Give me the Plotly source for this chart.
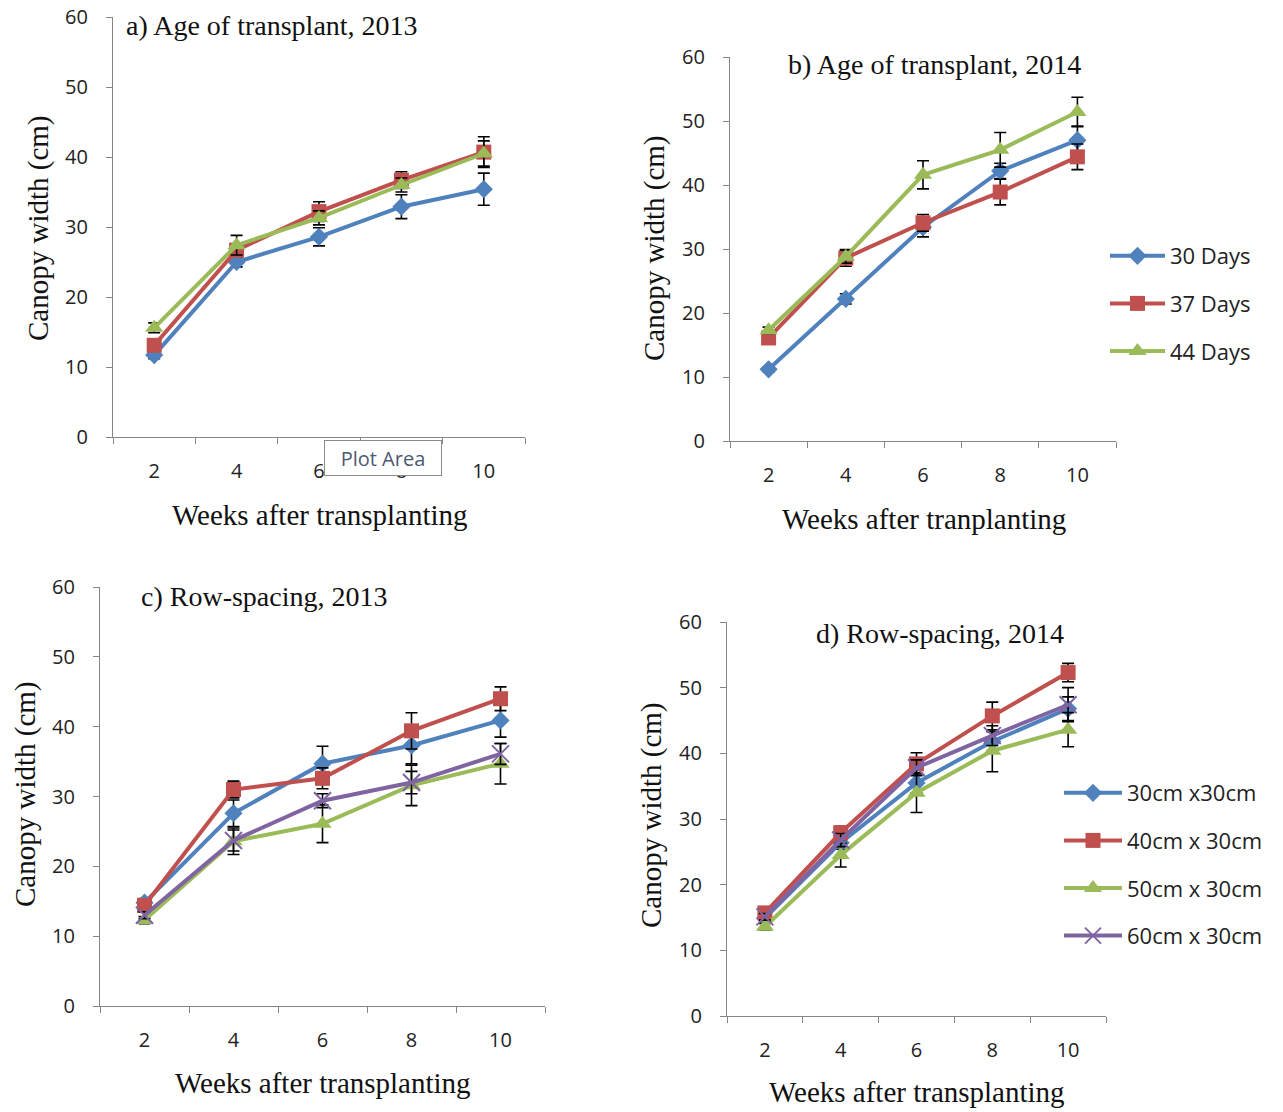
import plotly.graph_objects as go

W, H = 1283, 1112

weeks = ["2", "4", "6", "8", "10"]
y_ticks = [0, 10, 20, 30, 40, 50, 60]

# a) Age of transplant, 2013
a_30 = [11.7, 25.0, 28.6, 32.9, 35.4]
a_37 = [13.1, 26.7, 32.2, 36.7, 40.7]
a_44 = [15.6, 27.4, 31.3, 36.0, 40.5]
a_30_err = [0.5, 0.7, 1.3, 1.7, 2.3]
a_37_err = [0.6, 0.8, 1.4, 1.2, 2.2]
a_44_err = [0.7, 1.4, 1.0, 1.0, 1.8]

# b) Age of transplant, 2014
b_30 = [11.2, 22.2, 33.4, 42.2, 47.0]
b_37 = [16.1, 28.6, 34.1, 38.9, 44.4]
b_44 = [17.3, 28.8, 41.6, 45.5, 51.4]
b_30_err = [0.4, 0.8, 1.5, 1.2, 2.2]
b_37_err = [0.5, 1.3, 1.3, 2.0, 2.0]
b_44_err = [0.5, 1.0, 2.2, 2.7, 2.3]

# c) Row-spacing, 2013
c_30 = [14.8, 27.6, 34.7, 37.3, 40.9]
c_40 = [14.4, 31.0, 32.6, 39.4, 44.0]
c_50 = [12.3, 23.6, 26.1, 31.6, 34.7]
c_60 = [13.0, 23.7, 29.4, 32.0, 36.1]
c_30_err = [0.6, 1.9, 2.5, 2.6, 2.4]
c_40_err = [0.5, 1.2, 1.5, 2.6, 1.7]
c_50_err = [0.5, 1.9, 2.7, 2.9, 2.9]
c_60_err = [0.5, 1.5, 1.0, 1.6, 1.5]

# d) Row-spacing, 2014
d_30 = [14.9, 26.4, 35.5, 41.8, 46.8]
d_40 = [15.7, 27.9, 38.4, 45.7, 52.3]
d_50 = [13.6, 24.5, 34.0, 40.4, 43.6]
d_60 = [15.1, 26.8, 37.8, 42.7, 47.4]
d_30_err = [0.5, 1.0, 1.5, 1.5, 1.8]
d_40_err = [0.5, 1.0, 1.7, 2.1, 1.4]
d_50_err = [0.5, 1.8, 3.0, 3.2, 2.6]
d_60_err = [0.5, 1.0, 1.2, 1.5, 2.6]

age_names = ["30 Days", "37 Days", "44 Days"]
row_names = ["30cm x30cm", "40cm x 30cm", "50cm x 30cm", "60cm x 30cm"]

BLUE, RED, GREEN, PURPLE = "#4F81BD", "#C0504D", "#9BBB59", "#8064A2"
colors = [BLUE, RED, GREEN, PURPLE]
symbols = ["diamond", "square", "triangle-up", "x-thin-open"]
msizes = [14, 15, 16, 17]

SERIF = "Liberation Serif, Times New Roman, serif"
SANS = "Open Sans, Liberation Sans, Arial, sans-serif"

fig = go.Figure()


def px_x(p):
    return p / W


def px_y(p):
    return 1 - p / H


# panel pixel boxes in window pixels: (x0, x1, ytop, ybottom)
panels = {
    1: (113, 525, 17, 437),
    2: (730, 1116, 57, 441),
    3: (100, 545, 587, 1006),
    4: (727, 1106, 622, 1016),
}


def add_series(idx, ys, errs, names, legend=None):
    xa = "x" if idx == 1 else f"x{idx}"
    ya = "y" if idx == 1 else f"y{idx}"
    for i, (y, e, n) in enumerate(zip(ys, errs, names)):
        sym = symbols[i]
        fig.add_trace(go.Scatter(
            x=weeks, y=y, name=n, xaxis=xa, yaxis=ya,
            mode="lines+markers",
            line=dict(color=colors[i], width=4),
            marker=dict(symbol=sym, size=msizes[i], color=colors[i],
                        line=dict(color=colors[i], width=2 if sym.startswith("x") else 0)),
            error_y=dict(type="data", array=e, visible=True, color="black",
                         thickness=1.6, width=6),
            showlegend=legend is not None,
            legend=legend if legend else "legend",
            legendgroup=f"{idx}-{i}",
        ))


add_series(1, [a_30, a_37, a_44], [a_30_err, a_37_err, a_44_err], age_names)
add_series(2, [b_30, b_37, b_44], [b_30_err, b_37_err, b_44_err], age_names, legend="legend")
add_series(3, [c_30, c_40, c_50, c_60], [c_30_err, c_40_err, c_50_err, c_60_err], row_names)
add_series(4, [d_30, d_40, d_50, d_60], [d_30_err, d_40_err, d_50_err, d_60_err], row_names, legend="legend2")

layout = dict(
    width=W, height=H,
    margin=dict(l=0, r=0, t=0, b=0, autoexpand=False),
    paper_bgcolor="white", plot_bgcolor="white",
    showlegend=True,
)

axis_col = "#868686"
for idx, (x0, x1, yt, yb) in panels.items():
    xk = "xaxis" if idx == 1 else f"xaxis{idx}"
    yk = "yaxis" if idx == 1 else f"yaxis{idx}"
    xr = "x" if idx == 1 else f"x{idx}"
    yr = "y" if idx == 1 else f"y{idx}"
    layout[xk] = dict(
        domain=[px_x(x0), px_x(x1)], anchor=yr, type="category",
        categoryorder="array", categoryarray=weeks, range=[-0.5, 4.5],
        showline=True, linecolor=axis_col, linewidth=1.3,
        ticks="outside", ticklen=6, tickcolor=axis_col, tickson="boundaries",
        showgrid=False, zeroline=False, automargin=False,
        tickfont=dict(family=SANS, size=20, color="#222"),
        ticklabelstandoff=16, ticklabeloverflow="allow", fixedrange=True,
    )
    layout[yk] = dict(
        domain=[px_y(yb), px_y(yt)], anchor=xr, range=[0, 60],
        tickvals=y_ticks, showline=True, linecolor=axis_col, linewidth=1.3,
        ticks="outside", ticklen=6, tickcolor=axis_col,
        showgrid=False, zeroline=False, automargin=False,
        tickfont=dict(family=SANS, size=20, color="#222"),
        ticklabelstandoff=14, ticklabeloverflow="allow", fixedrange=True,
    )

layout["legend"] = dict(
    x=px_x(1105), y=px_y(235), xanchor="left", yanchor="top",
    font=dict(family=SANS, size=22, color="#222"),
    bgcolor="rgba(0,0,0,0)", tracegroupgap=16, traceorder="grouped",
    itemwidth=55,
)
layout["legend2"] = dict(
    x=px_x(1059), y=px_y(772), xanchor="left", yanchor="top",
    font=dict(family=SANS, size=22, color="#222"),
    bgcolor="rgba(0,0,0,0)", tracegroupgap=16, traceorder="grouped",
    itemwidth=58,
)

annotations = []


def ann(text, x, y, size, rot=0, family=SERIF, xanchor="center"):
    annotations.append(dict(
        text=text, x=px_x(x), y=px_y(y), xref="paper", yref="paper",
        showarrow=False, textangle=rot, xanchor=xanchor, yanchor="middle",
        font=dict(family=family, size=size, color="#111"),
    ))


# panel titles
ann("a) Age of transplant, 2013", 124, 26, 28, xanchor="left")
ann("b) Age of transplant, 2014", 786, 65, 28, xanchor="left")
ann("c) Row-spacing, 2013", 139, 596, 28, xanchor="left")
ann("d) Row-spacing, 2014", 814, 633, 28, xanchor="left")

# axis titles
ann("Canopy width (cm)", 38, 228, 29, rot=-90)
ann("Canopy width (cm)", 655, 248, 29, rot=-90)
ann("Canopy width (cm)", 25, 794, 29, rot=-90)
ann("Canopy width (cm)", 651, 815, 29, rot=-90)
ann("Weeks after transplanting", 320, 515, 29)
ann("Weeks after tranplanting", 924, 519, 29)
ann("Weeks after transplanting", 323, 1083, 29)
ann("Weeks after transplanting", 917, 1092, 29)

# Excel "Plot Area" tooltip artefact
annotations.append(dict(
    text="Plot Area", x=px_x(383), y=px_y(458), xref="paper", yref="paper",
    showarrow=False, xanchor="center", yanchor="middle",
    width=112, height=30,
    font=dict(family=SANS, size=20, color="#4a5a70"),
    bgcolor="white", bordercolor="#8a8a8a", borderwidth=1, borderpad=2,
))

layout["annotations"] = annotations
fig.update_layout(**layout)

fig.write_html(
    "out.html",
    config={"displayModeBar": False},
    post_script="document.body.style.margin='0';document.body.style.overflow='hidden';",
)
